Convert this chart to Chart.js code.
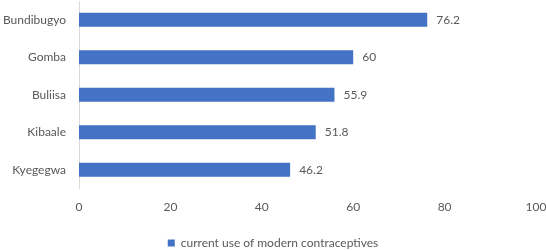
<!DOCTYPE html>
<html>
<head>
<meta charset="utf-8">
<script src="https://cdn.jsdelivr.net/npm/chart.js@4"></script>
<style>
  html, body { margin: 0; padding: 0; background: #fff; }
  #wrap { width: 546px; height: 251px; }
</style>
</head>
<body>
<div id="wrap"><canvas id="myChart"></canvas></div>
<script>
var districts = ["Bundibugyo", "Gomba", "Buliisa", "Kibaale", "Kyegegwa"];
var useValues = [76.2, 60, 55.9, 51.8, 46.2];
var seriesName = "current use of modern contraceptives";
var barColor = "#4472C4";

// draws the value just right of each bar
var valueLabels = {
    id: "valueLabels",
    afterDatasetsDraw: function(chart) {
        var ctx = chart.ctx;
        ctx.save();
        ctx.font = "12px Lato";
        ctx.fillStyle = "#595959";
        ctx.textAlign = "left";
        ctx.textBaseline = "middle";
        chart.getDatasetMeta(0).data.forEach(function(bar, i) {
            ctx.fillText(String(useValues[i]), bar.x + 9, bar.y);
        });
        ctx.restore();
    }
};

new Chart("myChart", {
    type: "bar",
    data: {
        labels: districts,
        datasets: [{
            label: seriesName,
            data: useValues,
            backgroundColor: barColor,
            barPercentage: 0.4,
            categoryPercentage: 0.93
        }]
    },
    plugins: [valueLabels],
    options: {
        indexAxis: "y",
        responsive: true,
        maintainAspectRatio: false,
        animation: false,
        layout: { padding: { top: 1, right: 0, left: 0, bottom: -8 } },
        scales: {
            x: {
                min: 0, max: 100,
                ticks: { stepSize: 20, color: "#595959", font: { family: "Lato", size: 12 }, padding: 11 },
                grid: { display: false, drawTicks: false },
                border: { display: false },
                afterFit: function(axis) {
                    axis.paddingLeft = 0;
                    axis.paddingRight = 10;
                }
            },
            y: {
                ticks: { color: "#595959", font: { family: "Lato", size: 12 }, padding: 13 },
                grid: { display: false, drawTicks: false },
                border: { display: true, color: "#d9d9d9", width: 1 },
                afterFit: function(axis) {
                    axis.width = 79;
                    axis.paddingTop = 0;
                    axis.paddingBottom = 0;
                }
            }
        },
        plugins: {
            legend: {
                position: "bottom",
                labels: {
                    boxWidth: 7, boxHeight: 7,
                    color: "#595959",
                    font: { family: "Lato", size: 12 },
                    padding: 12
                }
            },
            tooltip: { enabled: false }
        }
    }
});
</script>
</body>
</html>
